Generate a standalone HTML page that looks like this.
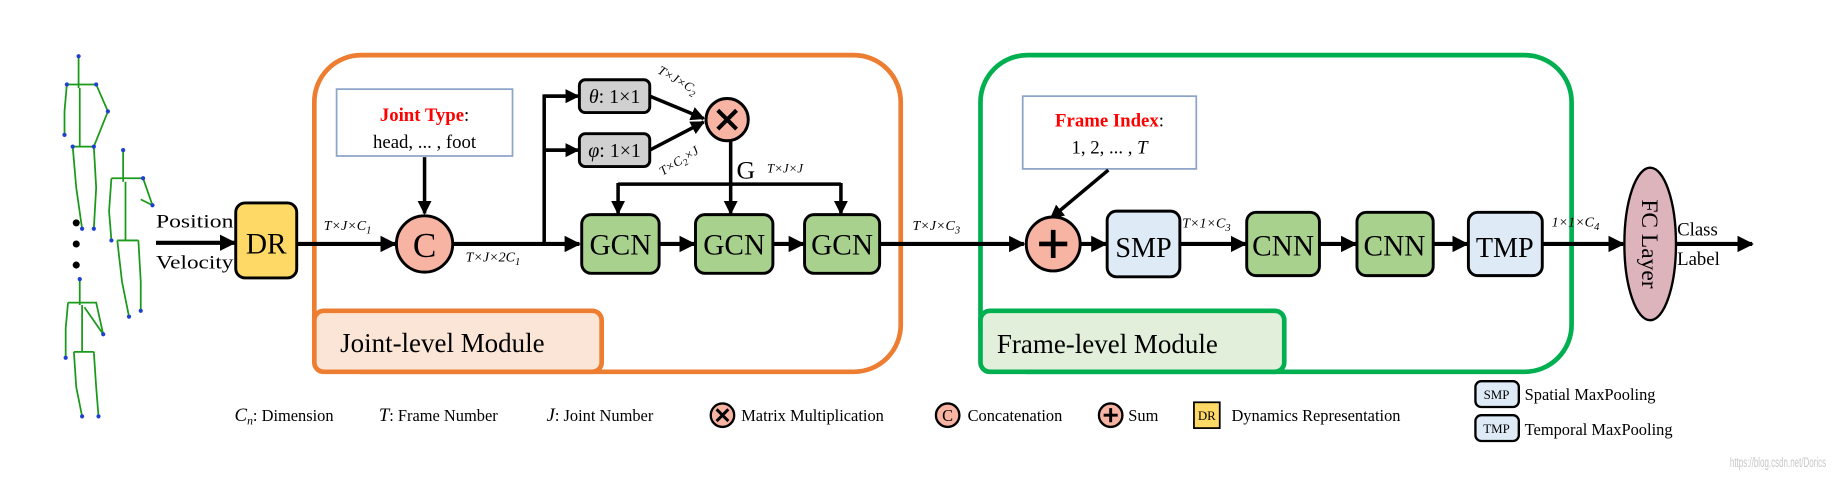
<!DOCTYPE html>
<html><head><meta charset="utf-8"><style>
html,body{margin:0;padding:0;background:#fff;}
svg{display:block;font-family:"Liberation Serif",serif;}
</style></head><body>
<svg width="1839" height="479" viewBox="0 0 1568 408.4" preserveAspectRatio="none" xmlns="http://www.w3.org/2000/svg">
<defs>
<marker id="a" viewBox="0 0 10 10" refX="9" refY="5" markerWidth="4" markerHeight="4" orient="auto"><path d="M0,0L10,5L0,10z" fill="#000"/></marker>
</defs>
<!-- skeletons -->
<g stroke="#1a9a1a" stroke-width="1.5" fill="none">
<path d="M67,48 V75 M57,72 H82 L92,95 L80,125 M57,72 L55,95 L55,115 M68,75 V125 M62,125 H80 M62,125 L65,160 L70,195 M80,125 L82,160 L80,195"/>
<path d="M105,128 V155 M95,152 H122 L130,175 L120,170 M95,152 L93,180 L95,205 M107,155 V205 M100,205 H118 M100,205 L104,240 L110,270 M118,205 L120,240 L120,265"/>
<path d="M68,238 V260 M58,258 H82 L88,285 L72,262 M58,258 L56,280 L56,305 M70,260 V300 M63,300 H80 M63,300 L65,330 L70,355 M80,300 L82,330 L84,355"/>
</g>
<g fill="#2040d0">
<circle cx="67" cy="48" r="1.8"/><circle cx="57" cy="72" r="1.8"/><circle cx="82" cy="72" r="1.8"/><circle cx="92" cy="95" r="1.8"/><circle cx="80" cy="125" r="1.8"/><circle cx="55" cy="115" r="1.8"/><circle cx="62" cy="125" r="1.8"/><circle cx="70" cy="195" r="1.8"/><circle cx="80" cy="195" r="1.8"/>
<circle cx="105" cy="128" r="1.8"/><circle cx="122" cy="152" r="1.8"/><circle cx="130" cy="175" r="1.8"/><circle cx="95" cy="205" r="1.8"/><circle cx="110" cy="270" r="1.8"/><circle cx="120" cy="265" r="1.8"/>
<circle cx="68" cy="238" r="1.8"/><circle cx="88" cy="285" r="1.8"/><circle cx="56" cy="305" r="1.8"/><circle cx="70" cy="355" r="1.8"/><circle cx="84" cy="355" r="1.8"/>
</g>
<circle cx="65" cy="190" r="3"/><circle cx="65" cy="208" r="3"/><circle cx="65" cy="226" r="3"/>

<!-- module boxes -->
<rect x="268" y="47" width="500" height="270" rx="40" fill="none" stroke="#ED7D31" stroke-width="4"/>
<rect x="268" y="265" width="245" height="52" rx="8" fill="#FBE5D6" stroke="#ED7D31" stroke-width="4"/>
<text x="290" y="300" font-size="23">Joint-level Module</text>
<rect x="836" y="47" width="504" height="270" rx="40" fill="none" stroke="#00B050" stroke-width="4"/>
<rect x="836" y="265" width="259" height="52" rx="8" fill="#E2EFDA" stroke="#00B050" stroke-width="4"/>
<text x="850" y="301" font-size="23">Frame-level Module</text>

<!-- input -->
<text x="133" y="194" font-size="16" textLength="66" lengthAdjust="spacingAndGlyphs">Position</text>
<text x="133" y="229" font-size="16" textLength="66" lengthAdjust="spacingAndGlyphs">Velocity</text>
<line x1="133" y1="207" x2="200" y2="207" stroke="#000" stroke-width="3.5" marker-end="url(#a)"/>

<rect x="201" y="173" width="52" height="64" rx="8" fill="#FFD966" stroke="#000" stroke-width="2.5"/>
<text x="227" y="216" font-size="25" text-anchor="middle">DR</text>
<line x1="253" y1="208" x2="337" y2="208" stroke="#000" stroke-width="3.5" marker-end="url(#a)"/>
<text x="276" y="196" font-size="12" font-style="italic">T×J×C<tspan font-size="9" dy="3">1</tspan></text>

<!-- joint type -->
<rect x="287" y="76" width="150" height="57" fill="#fff" stroke="#8EA4C8" stroke-width="1.5"/>
<text x="362" y="103" font-size="16" text-anchor="middle"><tspan fill="#f00" font-weight="bold">Joint Type</tspan>:</text>
<text x="362" y="126" font-size="16" text-anchor="middle">head, ... , foot</text>
<line x1="362" y1="134" x2="362" y2="182" stroke="#000" stroke-width="3" marker-end="url(#a)"/>
<circle cx="362" cy="208" r="24" fill="#F8B4A3" stroke="#000" stroke-width="2.5"/>
<text x="362" y="219" font-size="30" text-anchor="middle">C</text>

<line x1="386" y1="208" x2="494" y2="208" stroke="#000" stroke-width="3.5" marker-end="url(#a)"/>
<text x="397" y="223" font-size="12" font-style="italic">T×J×2C<tspan font-size="9" dy="3">1</tspan></text>
<path d="M464,208 V82 H492 M464,128 H492" fill="none" stroke="#000" stroke-width="3"/>
<line x1="464" y1="82" x2="493" y2="82" stroke="#000" stroke-width="3" marker-end="url(#a)"/>
<line x1="464" y1="128" x2="493" y2="128" stroke="#000" stroke-width="3" marker-end="url(#a)"/>
<rect x="494" y="68" width="60" height="28" rx="5" fill="#D0D0D0" stroke="#000" stroke-width="2.5"/>
<text x="524" y="88" font-size="17" text-anchor="middle"><tspan font-style="italic">θ</tspan>: 1×1</text>
<rect x="494" y="114" width="60" height="28" rx="5" fill="#D0D0D0" stroke="#000" stroke-width="2.5"/>
<text x="524" y="134" font-size="17" text-anchor="middle"><tspan font-style="italic">φ</tspan>: 1×1</text>
<line x1="554" y1="82" x2="600" y2="101" stroke="#000" stroke-width="3" marker-end="url(#a)"/>
<line x1="554" y1="128" x2="600" y2="104" stroke="#000" stroke-width="3" marker-end="url(#a)"/>
<text x="560" y="62" font-size="11" font-style="italic" transform="rotate(30 560 62)">T×J×C<tspan font-size="8" dy="3">2</tspan></text>
<text x="565" y="150" font-size="11" font-style="italic" transform="rotate(-32 565 150)">T×C<tspan font-size="8" dy="3">2</tspan><tspan dy="-3">×J</tspan></text>
<circle cx="620" cy="102" r="18" fill="#F8B4A3" stroke="#000" stroke-width="2.5"/>
<path d="M612,94 L628,110 M628,94 L612,110" stroke="#000" stroke-width="3.5"/>
<line x1="623" y1="120" x2="623" y2="182" stroke="#000" stroke-width="3" marker-end="url(#a)"/>
<text x="628" y="152" font-size="22">G</text>
<text x="654" y="147" font-size="11" font-style="italic">T×J×J</text>
<path d="M527,157 H717" stroke="#000" stroke-width="3" fill="none"/>
<line x1="527" y1="156" x2="527" y2="182" stroke="#000" stroke-width="3" marker-end="url(#a)"/>
<line x1="717" y1="156" x2="717" y2="182" stroke="#000" stroke-width="3" marker-end="url(#a)"/>

<g stroke="#000" stroke-width="2.5" fill="#A9D18E">
<rect x="496" y="183" width="66" height="50" rx="8"/>
<rect x="593" y="183" width="66" height="50" rx="8"/>
<rect x="686" y="183" width="64" height="50" rx="8"/>
<rect x="1063" y="181" width="62" height="54" rx="8"/>
<rect x="1157" y="181" width="65" height="54" rx="8"/>
</g>
<g font-size="25" text-anchor="middle">
<text x="529" y="217">GCN</text><text x="626" y="217">GCN</text><text x="718" y="217">GCN</text>
<text x="1094" y="218">CNN</text><text x="1189" y="218">CNN</text>
</g>
<line x1="562" y1="208" x2="592" y2="208" stroke="#000" stroke-width="3.5" marker-end="url(#a)"/>
<line x1="659" y1="208" x2="685" y2="208" stroke="#000" stroke-width="3.5" marker-end="url(#a)"/>
<line x1="750" y1="208" x2="873" y2="208" stroke="#000" stroke-width="3.5" marker-end="url(#a)"/>
<text x="778" y="196" font-size="12" font-style="italic">T×J×C<tspan font-size="9" dy="3">3</tspan></text>

<!-- frame index -->
<rect x="872" y="82" width="148" height="62" fill="#fff" stroke="#8EA4C8" stroke-width="1.5"/>
<text x="946" y="108" font-size="16" text-anchor="middle"><tspan fill="#f00" font-weight="bold">Frame Index</tspan>:</text>
<text x="946" y="131" font-size="16" text-anchor="middle">1, 2,  ... , <tspan font-style="italic">T</tspan></text>
<line x1="945" y1="145" x2="896" y2="186" stroke="#000" stroke-width="3" marker-end="url(#a)"/>
<circle cx="898" cy="208" r="23" fill="#F8B4A3" stroke="#000" stroke-width="2.5"/>
<path d="M886,208 H910 M898,196 V220" stroke="#000" stroke-width="4"/>
<line x1="921" y1="208" x2="943" y2="208" stroke="#000" stroke-width="3.5" marker-end="url(#a)"/>
<rect x="944" y="180" width="62" height="56" rx="8" fill="#DEEBF7" stroke="#000" stroke-width="2.5"/>
<text x="975" y="219" font-size="24" text-anchor="middle">SMP</text>
<line x1="1006" y1="208" x2="1062" y2="208" stroke="#000" stroke-width="3.5" marker-end="url(#a)"/>
<text x="1008" y="194" font-size="12" font-style="italic">T×1×C<tspan font-size="9" dy="3">3</tspan></text>
<line x1="1125" y1="208" x2="1156" y2="208" stroke="#000" stroke-width="3.5" marker-end="url(#a)"/>
<line x1="1222" y1="208" x2="1251" y2="208" stroke="#000" stroke-width="3.5" marker-end="url(#a)"/>
<rect x="1252" y="181" width="63" height="54" rx="8" fill="#DEEBF7" stroke="#000" stroke-width="2.5"/>
<text x="1283" y="219" font-size="24" text-anchor="middle">TMP</text>
<line x1="1315" y1="208" x2="1384" y2="208" stroke="#000" stroke-width="3.5" marker-end="url(#a)"/>
<text x="1323" y="193" font-size="12" font-style="italic">1×1×C<tspan font-size="9" dy="3">4</tspan></text>
<ellipse cx="1407" cy="208" rx="22" ry="65" fill="#DDB4BC" stroke="#000" stroke-width="2"/>
<text x="1407" y="208" font-size="20" text-anchor="middle" transform="rotate(90 1407 208)" dy="7">FC Layer</text>
<line x1="1429" y1="208" x2="1494" y2="208" stroke="#000" stroke-width="3.5" marker-end="url(#a)"/>
<text x="1430" y="201" font-size="16">Class</text>
<text x="1430" y="226" font-size="16">Label</text>

<!-- legend -->
<g font-size="14">
<text x="200" y="359"><tspan font-style="italic" font-size="16">C</tspan><tspan font-style="italic" font-size="10" dy="3">n</tspan><tspan dy="-3">: Dimension</tspan></text>
<text x="323" y="359"><tspan font-style="italic" font-size="16">T</tspan>: Frame Number</text>
<text x="466" y="359"><tspan font-style="italic" font-size="16">J</tspan>: Joint Number</text>
<circle cx="616" cy="354" r="10" fill="#F8B4A3" stroke="#000" stroke-width="2"/>
<path d="M611,349 L621,359 M621,349 L611,359" stroke="#000" stroke-width="2.5"/>
<text x="632" y="359">Matrix Multiplication</text>
<circle cx="808" cy="354" r="10" fill="#F8B4A3" stroke="#000" stroke-width="2"/>
<text x="808" y="359" text-anchor="middle" font-size="14">C</text>
<text x="825" y="359">Concatenation</text>
<circle cx="947" cy="354" r="10" fill="#F8B4A3" stroke="#000" stroke-width="2"/>
<path d="M941,354 H953 M947,348 V360" stroke="#000" stroke-width="2.5"/>
<text x="962" y="359">Sum</text>
<rect x="1018" y="343" width="22" height="22" fill="#FFD966" stroke="#000" stroke-width="1.5"/>
<text x="1029" y="358" font-size="11" text-anchor="middle">DR</text>
<text x="1050" y="359">Dynamics Representation</text>
<rect x="1258" y="325" width="37" height="22" rx="5" fill="#DEEBF7" stroke="#000" stroke-width="2"/>
<text x="1276" y="340" font-size="11" text-anchor="middle">SMP</text>
<text x="1300" y="341">Spatial MaxPooling</text>
<rect x="1258" y="354" width="37" height="22" rx="5" fill="#DEEBF7" stroke="#000" stroke-width="2"/>
<text x="1276" y="369" font-size="11" text-anchor="middle">TMP</text>
<text x="1300" y="371">Temporal MaxPooling</text>
</g>
<text x="1475" y="398" font-size="12" fill="#c8c8c8" font-family="Liberation Sans, sans-serif" textLength="82" lengthAdjust="spacingAndGlyphs">https://blog.csdn.net/Dorics</text>
</svg>
</body></html>
